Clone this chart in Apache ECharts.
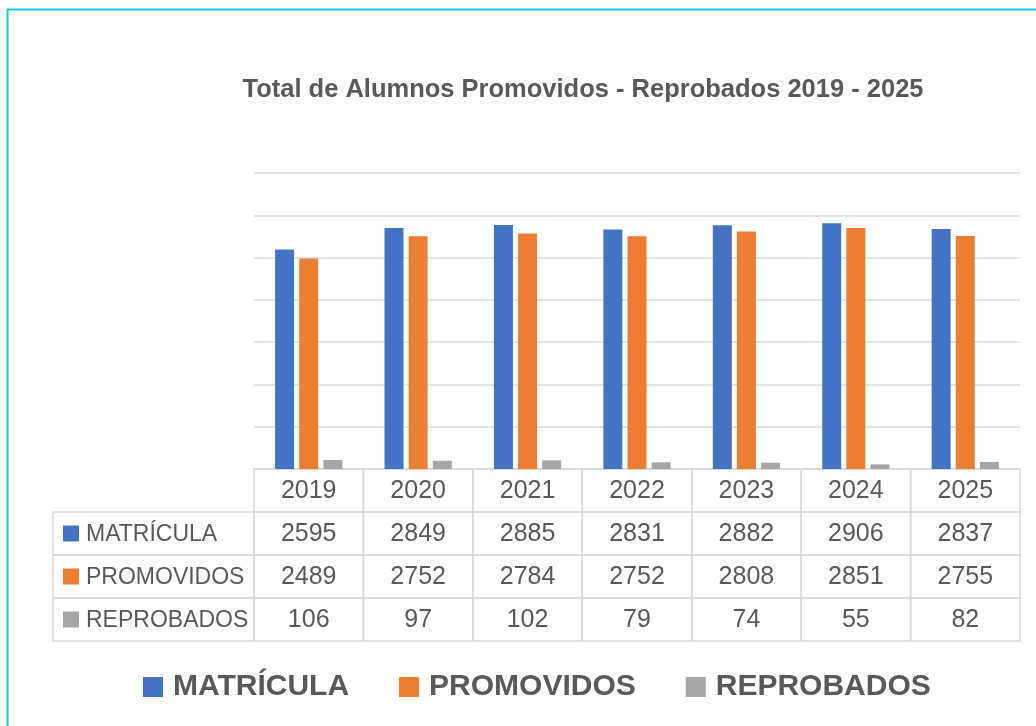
<!DOCTYPE html>
<html>
<head>
<meta charset="utf-8">
<script src="https://cdn.jsdelivr.net/npm/echarts@6/dist/echarts.min.js"></script>
<style>
html,body{margin:0;padding:0;background:#fff;}
#chart{width:1036px;height:726px;}
</style>
</head>
<body>
<div id="chart"></div>
<script>
const years = ['2019','2020','2021','2022','2023','2024','2025'];
const matricula = [2595, 2849, 2885, 2831, 2882, 2906, 2837];
const promovidos = [2489, 2752, 2784, 2752, 2808, 2851, 2755];
const reprobados = [106, 97, 102, 79, 74, 55, 82];
const seriesNames = ['MATRÍCULA', 'PROMOVIDOS', 'REPROBADOS'];
const seriesColors = ['#4472C4', '#ED7D31', '#A5A5A5'];
const titleText = 'Total de Alumnos Promovidos - Reprobados 2019 - 2025';

const FONT = '"Liberation Sans", Arial, sans-serif';
const TXT = '#595959';
const LINE = '#d9d9d9';
const seriesValues = [matricula, promovidos, reprobados];

// table cells: row 0 = header (years), rows 1..3 = series values
const cells = [];
years.forEach((y, i) => {
  cells.push({ value: [i, 0], text: y, row: 0, col: i });
  seriesValues.forEach((vals, s) => {
    cells.push({ value: [i, s + 1], text: String(vals[i]), row: s + 1, col: i });
  });
});

const chart = echarts.init(document.getElementById('chart'), null, { renderer: 'canvas' });

const option = {
  animation: false,
  backgroundColor: '#fff',
  title: {
    text: titleText,
    left: 578, top: 72, textAlign: 'center',
    textStyle: { fontFamily: FONT, fontSize: 25.5, fontWeight: 'bold', color: TXT }
  },
  legend: {
    data: seriesNames,
    left: 138, top: 667,
    icon: 'rect', itemWidth: 20, itemHeight: 20, itemGap: 50,
    textStyle: { fontFamily: FONT, fontSize: 30, fontWeight: 'bold', color: TXT, padding: [0, 0, 0, 5] }
  },
  grid: [
    { left: 254, width: 766, top: 173, height: 296 },
    { left: 254, width: 766, top: 469, height: 172 }
  ],
  xAxis: [
    { type: 'category', gridIndex: 0, data: years,
      axisLine: { show: true, lineStyle: { color: LINE, width: 1.5 } },
      axisTick: { show: false }, axisLabel: { show: false } },
    { type: 'category', gridIndex: 1, data: years, show: false }
  ],
  yAxis: [
    { type: 'value', gridIndex: 0, min: 0, max: 3500, interval: 500,
      axisLine: { show: false }, axisTick: { show: false }, axisLabel: { show: false },
      splitLine: { lineStyle: { color: LINE, width: 1.5 } } },
    { type: 'category', gridIndex: 1, data: ['', ...seriesNames], inverse: true, show: false }
  ],
  graphic: [
    { type: 'rect', silent: true, z: 100,
      shape: { x: 7.5, y: 9.5, width: 1100, height: 800 },
      style: { fill: 'none', stroke: '#12c6f2', lineWidth: 2 } }
  ],
  series: [
    ...seriesNames.map((name, s) => ({
      name, type: 'bar', xAxisIndex: 0, yAxisIndex: 0,
      data: seriesValues[s], barWidth: 19, barGap: '27%',
      itemStyle: { color: seriesColors[s] }
    })),
    {
      type: 'custom', xAxisIndex: 1, yAxisIndex: 1,
      data: cells.map(c => c.value),
      renderItem: function (params, api) {
        const cell = cells[params.dataIndex];
        const c = api.coord([api.value(0), api.value(1)]);
        const sz = api.size([1, 1]);
        const x0 = c[0] - sz[0] / 2, y0 = c[1] - sz[1] / 2;
        const children = [
          { type: 'rect', shape: { x: x0, y: y0, width: sz[0], height: sz[1] },
            style: { fill: 'none', stroke: LINE, lineWidth: 1.5 } },
          { type: 'text', style: { text: cell.text, x: c[0], y: c[1] + 1, textAlign: 'center',
            textVerticalAlign: 'middle', fill: TXT, font: '25px ' + FONT } }
        ];
        if (cell.col === 0 && cell.row > 0) {
          const lw = 201;
          const lx = x0 - lw;
          children.push(
            { type: 'rect', shape: { x: lx, y: y0, width: lw, height: sz[1] },
              style: { fill: 'none', stroke: LINE, lineWidth: 1.5 } },
            { type: 'rect', shape: { x: lx + 10, y: c[1] - 8, width: 16, height: 16 },
              style: { fill: seriesColors[cell.row - 1] } },
            { type: 'text', style: { text: seriesNames[cell.row - 1], x: lx + 33, y: c[1] + 1,
              textAlign: 'left', textVerticalAlign: 'middle', fill: TXT, font: '23px ' + FONT } }
          );
        }
        return { type: 'group', children };
      }
    }
  ]
};
chart.setOption(option);
</script>
</body>
</html>
